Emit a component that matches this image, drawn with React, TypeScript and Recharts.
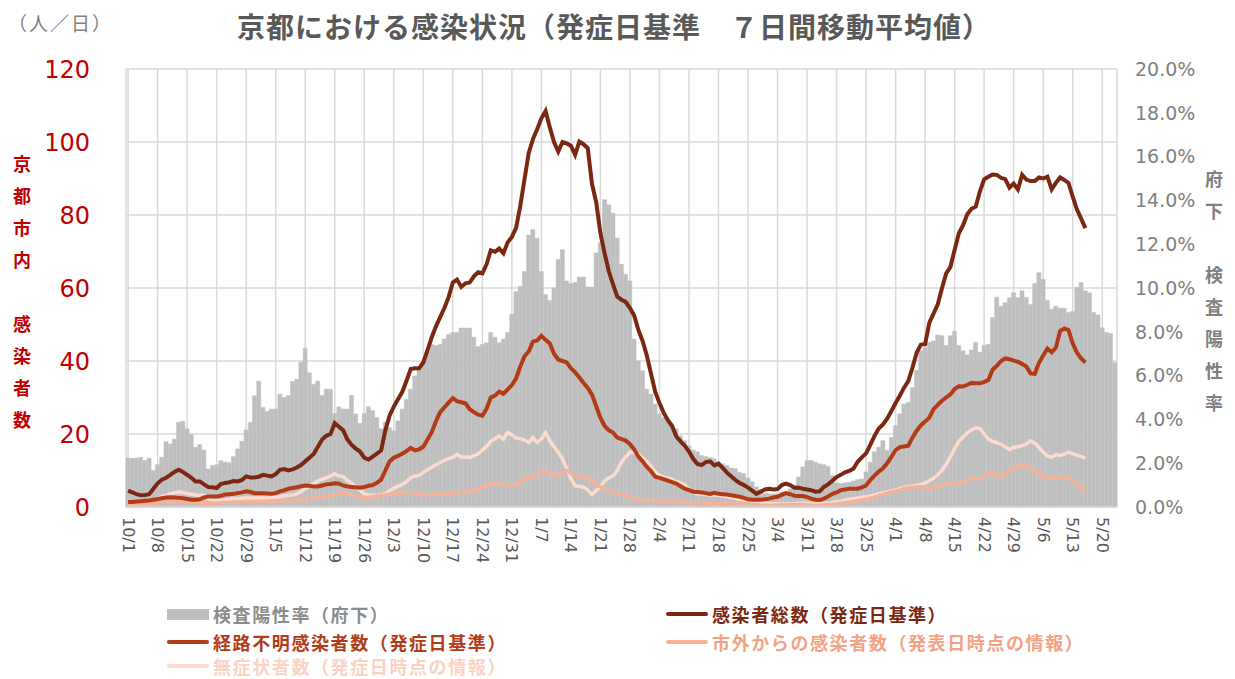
import React from "react";
import { Bar, CartesianGrid, ComposedChart, Line, XAxis, YAxis } from "recharts";

// daily values from 10/1 (2020). lines stop at 5/16, bars run to 5/23

// 検査陽性率（府下） in %
const positiveRate = [
  2.23, 2.23, 2.23, 2.27, 2.12, 2.23, 1.67, 1.93, 2.27, 2.98,
  2.88, 3.1, 3.87, 3.92, 3.57, 3.3, 2.73, 2.85, 2.6, 1.73,
  1.9, 1.93, 2.12, 2.05, 2.02, 2.3, 2.65, 3.0, 3.52, 3.87,
  5.08, 5.75, 4.55, 4.37, 4.47, 4.47, 5.15, 5.0, 5.08, 5.73,
  5.83, 6.6, 7.25, 6.13, 5.6, 5.75, 5.1, 5.38, 5.38, 4.27,
  4.57, 4.47, 4.47, 5.1, 4.25, 3.82, 4.27, 4.58, 4.4, 4.08,
  3.57, 3.88, 3.63, 3.48, 3.93, 4.47, 4.92, 5.38, 5.98, 6.3,
  6.67, 7.07, 7.42, 7.37, 7.42, 7.67, 7.88, 7.97, 7.97, 8.17,
  8.17, 8.17, 7.75, 7.32, 7.42, 7.5, 7.97, 7.75, 7.5, 7.67,
  7.97, 8.8, 9.83, 10.08, 10.75, 12.42, 12.67, 12.27, 10.75, 9.7,
  9.43, 10.0, 11.3, 11.75, 10.32, 10.2, 10.25, 10.5, 10.5, 10.05,
  10.05, 11.6, 12.07, 14.03, 13.8, 13.42, 12.28, 11.08, 10.62, 10.32,
  7.67, 6.67, 6.22, 5.38, 5.15, 4.7, 4.25, 4.08, 3.97, 3.72,
  3.57, 3.25, 3.03, 2.8, 2.6, 2.52, 2.35, 2.3, 2.25, 2.2,
  2.05, 1.97, 1.9, 1.78, 1.75, 1.58, 1.52, 1.32, 1.15, 0.92,
  0.8, 0.63, 0.6, 0.6, 0.6, 0.68, 0.68, 0.83, 1.0, 1.37,
  1.83, 2.12, 2.12, 2.05, 1.97, 1.93, 1.85, 1.43, 1.1, 1.07,
  1.1, 1.12, 1.18, 1.25, 1.28, 1.6, 2.05, 2.52, 2.73, 3.03,
  2.58, 3.18, 3.72, 4.25, 4.7, 4.78, 5.45, 6.23, 7.13, 7.28,
  7.52, 7.58, 7.85, 7.82, 7.37, 7.82, 8.03, 7.37, 7.13, 6.95,
  7.17, 7.52, 7.07, 7.37, 7.43, 8.65, 9.58, 9.17, 9.33, 9.55,
  9.78, 9.55, 9.87, 9.57, 9.25, 10.2, 10.7, 10.4, 9.43, 9.03,
  9.17, 9.08, 9.08, 8.88, 8.93, 10.02, 10.25, 9.87, 9.78, 8.88,
  8.77, 8.18, 7.97, 7.92, 6.6,
];

// 感染者総数（発症日基準）
const totalCases = [
  4.5, 4.0, 3.5, 3.2, 3.3, 3.5, 5.0, 6.5, 7.5, 8.0,
  8.8, 9.6, 10.2, 9.6, 8.8, 8.0, 7.0, 7.0, 6.2, 5.5,
  5.4, 5.2, 6.3, 6.6, 6.8, 7.1, 7.0, 7.4, 8.4, 8.1,
  8.1, 8.3, 8.8, 8.6, 8.4, 9.0, 10.2, 10.4, 10.0, 10.3,
  10.8, 11.5, 12.5, 13.5, 14.5, 16.5, 18.5, 19.5, 20.0, 23.0,
  22.0, 21.0, 18.5, 17.0, 16.0, 15.2, 13.5, 13.0, 13.8, 14.6,
  15.5, 21.0, 25.0, 27.5, 29.5, 31.5, 34.5, 37.8, 38.0, 38.0,
  39.6, 43.0, 46.5, 49.5, 52.0, 54.5, 57.5, 61.5, 62.3, 60.3,
  61.3, 61.5, 63.2, 64.3, 64.0, 66.5, 70.3, 69.9, 70.8, 69.5,
  72.5, 74.0, 76.5, 82.5, 89.8, 97.0, 100.8, 103.5, 106.5, 108.5,
  104.0, 100.0, 97.4, 100.0, 99.6, 99.0, 96.5, 100.1, 99.4, 98.3,
  88.5, 83.5, 75.0, 69.5, 64.5, 61.0, 57.6, 56.8, 56.2, 54.5,
  52.5, 48.5, 45.5, 41.5, 36.5, 31.5, 28.5, 25.8, 23.8, 22.2,
  19.3, 18.0, 16.8, 15.2, 13.2, 11.8, 11.5, 12.3, 12.5, 11.4,
  11.9, 10.7, 9.4, 8.4, 7.4, 6.6, 6.0, 5.3, 4.5, 3.6,
  4.2, 4.8, 5.0, 4.8, 4.9, 6.0, 6.4, 6.0, 5.3, 5.3,
  5.0, 4.8, 4.6, 4.2, 4.3, 5.5, 6.2, 7.2, 8.2, 8.8,
  9.5, 9.9, 10.5, 12.4, 13.6, 14.7, 17.0, 19.5, 21.5, 22.6,
  24.2, 26.3, 28.5, 30.5, 32.7, 34.5, 38.2, 42.3, 44.5, 44.6,
  50.5, 53.0, 55.5, 60.0, 64.0, 65.8, 70.5, 75.0, 77.2, 80.2,
  81.7, 82.3, 86.5, 89.8, 90.5, 91.1, 91.0, 90.2, 89.8, 87.5,
  88.6, 87.0, 91.0, 89.7, 89.3, 89.3, 90.3, 90.0, 90.5, 87.0,
  88.8, 90.3, 89.6, 88.8, 85.0, 81.5, 79.0, 76.4,
];

// 経路不明感染者数（発症日基準）
const unknownRoute = [
  1.4, 1.4, 1.5, 1.6, 1.7, 1.8, 2.0, 2.2, 2.4, 2.6,
  2.7, 2.6, 2.5, 2.4, 2.2, 2.0, 2.0, 2.1, 2.6, 2.9,
  2.9, 2.9, 3.1, 3.4, 3.5, 3.6, 3.8, 4.0, 4.3, 4.1,
  3.8, 3.8, 3.8, 3.7, 3.6, 3.8, 4.3, 4.6, 5.0, 5.2,
  5.4, 5.7, 5.9, 5.8, 5.6, 5.6, 5.9, 6.2, 6.3, 6.5,
  6.4, 5.9, 5.6, 5.5, 5.4, 5.3, 5.5, 5.8, 6.0, 6.6,
  7.5, 10.0, 12.5, 13.5, 14.0, 14.6, 15.3, 16.2, 15.5, 15.8,
  16.5, 18.5, 20.5, 23.5, 26.0, 27.3, 28.6, 29.8, 29.0, 28.7,
  28.4, 26.8, 26.0, 25.3, 25.0, 26.9, 30.0, 30.5, 31.6, 31.0,
  32.2, 33.4, 35.2, 38.5, 41.3, 42.6, 45.3, 45.6, 46.9, 45.8,
  44.8, 42.0, 40.4, 40.0, 39.6, 38.0, 36.9, 35.5, 34.0, 32.6,
  30.8, 27.6, 24.5, 22.2, 21.0, 20.4, 19.0, 18.6, 18.2, 17.2,
  15.8, 13.8, 12.5, 11.0, 9.8, 8.3, 8.0, 7.6, 7.2, 6.8,
  6.4, 5.7, 5.0, 4.6, 4.2, 4.1, 4.0, 3.8, 3.6, 3.9,
  3.6, 3.5, 3.4, 3.2, 3.0, 2.8, 2.5, 2.1, 2.0, 2.0,
  2.0, 2.1, 2.3, 2.6, 2.8, 3.3, 3.8, 3.5, 3.1, 3.0,
  3.0, 2.7, 2.3, 2.0, 1.9, 2.3, 2.9, 3.6, 4.0, 4.6,
  4.8, 5.0, 5.0, 5.0, 5.4, 5.9, 7.4, 8.6, 9.7, 10.6,
  12.0, 13.7, 15.6, 16.4, 16.6, 16.8, 19.0, 20.9, 22.4, 23.4,
  24.5, 26.8, 28.0, 29.1, 30.0, 30.9, 32.3, 33.1, 33.0, 33.5,
  34.0, 33.9, 33.9, 34.3, 34.8, 37.6, 38.7, 40.0, 40.7, 40.5,
  40.1, 39.8, 39.2, 38.5, 36.6, 36.5, 39.5, 41.5, 43.4, 42.4,
  43.6, 48.2, 48.9, 48.5, 44.8, 42.3, 40.7, 39.6,
];

// 市外からの感染者数（発表日時点の情報）
const fromOutside = [
  0.4, 0.5, 0.6, 0.7, 0.8, 0.9, 1.0, 1.1, 1.2, 1.3,
  1.4, 1.5, 1.5, 1.5, 1.4, 1.3, 1.2, 1.1, 1.0, 1.0,
  1.0, 1.1, 1.2, 1.2, 1.3, 1.3, 1.4, 1.4, 1.5, 1.5,
  1.5, 1.5, 1.6, 1.6, 1.6, 1.6, 1.7, 1.7, 1.8, 1.8,
  2.0, 2.1, 2.2, 2.3, 2.4, 2.6, 2.8, 2.9, 3.0, 3.3,
  3.6, 3.8, 3.7, 3.3, 3.0, 2.8, 2.7, 2.7, 2.8, 3.0,
  3.2, 3.3, 3.5, 3.6, 3.6, 3.8, 4.0, 4.1, 3.8, 3.6,
  3.4, 3.3, 3.4, 3.5, 3.5, 3.6, 3.7, 3.8, 3.9, 4.0,
  4.1, 4.1, 4.3, 4.8, 5.3, 5.8, 6.4, 6.5, 6.3, 6.1,
  6.0, 6.0, 6.1, 6.7, 7.6, 8.3, 8.3, 8.5, 9.4, 10.1,
  9.0, 8.8, 8.6, 9.6, 10.0, 9.2, 8.7, 8.3, 8.0, 7.8,
  7.4, 6.2, 5.5, 5.0, 4.5, 4.2, 3.8, 3.4, 3.1, 2.8,
  2.3, 2.1, 1.9, 1.8, 1.8, 1.7, 1.7, 1.6, 1.6, 1.6,
  1.5, 1.4, 1.4, 1.3, 1.2, 1.1, 1.1, 1.0, 1.0, 0.9,
  0.9, 1.0, 1.1, 1.0, 0.9, 0.8, 0.8, 0.7, 0.7, 0.6,
  0.5, 0.5, 0.5, 0.5, 0.5, 0.6, 0.6, 0.7, 0.7, 0.7,
  0.6, 0.6, 0.5, 0.5, 0.5, 0.6, 0.7, 0.7, 0.8, 1.0,
  1.2, 1.4, 1.5, 1.7, 1.9, 2.1, 2.4, 2.7, 3.1, 3.4,
  3.8, 4.1, 4.4, 4.7, 5.0, 5.3, 5.4, 5.5, 5.6, 5.1,
  5.2, 5.4, 5.7, 6.0, 6.2, 6.4, 6.5, 6.6, 6.7, 7.2,
  8.1, 7.6, 7.8, 8.3, 9.3, 9.3, 8.8, 8.6, 9.0, 10.2,
  10.6, 10.9, 11.4, 11.2, 10.6, 9.9, 9.3, 8.2, 7.8, 7.8,
  8.1, 8.2, 8.2, 7.9, 7.0, 6.4, 5.5, 4.2,
];

// 無症状者数（発症日時点の情報）
const asymptomatic = [
  0.6, 0.8, 1.1, 1.3, 1.5, 1.7, 2.0, 2.4, 2.9, 3.2,
  3.6, 3.9, 4.1, 4.0, 3.7, 3.5, 3.3, 3.2, 3.2, 2.2,
  1.9, 1.8, 1.8, 2.0, 2.1, 2.3, 2.3, 2.4, 2.5, 2.5,
  2.5, 2.5, 2.5, 2.5, 2.6, 2.7, 2.8, 3.0, 3.2, 3.3,
  3.6, 4.2, 5.0, 5.8, 6.4, 7.2, 7.6, 8.0, 8.5, 9.1,
  8.5, 8.3, 7.3, 6.5, 5.6, 4.6, 3.6, 3.3, 3.2, 3.2,
  3.4, 3.6, 4.5, 5.1, 5.7, 6.2, 6.9, 8.0, 8.5, 8.6,
  9.5, 10.2, 10.9, 11.6, 12.2, 12.8, 13.3, 13.6, 14.5, 13.7,
  13.7, 13.6, 14.0, 14.6, 15.6, 16.6, 18.0, 18.7, 19.5, 18.6,
  20.4, 19.8, 18.9, 18.7, 18.4, 17.6, 19.0, 17.7, 18.6, 20.4,
  18.1, 16.5, 15.0, 13.2, 10.5, 7.8, 5.8, 5.7, 5.4, 4.7,
  3.4, 4.5, 5.6, 7.1, 8.0, 8.5, 10.0, 12.3, 13.7, 15.0,
  15.0, 14.5, 13.4, 12.4, 11.2, 9.6, 8.7, 8.2, 7.9, 7.6,
  7.0, 6.6, 6.2, 4.8, 4.0, 3.6, 3.5, 3.4, 3.3, 3.3,
  3.2, 3.0, 2.8, 2.6, 2.4, 2.2, 2.0, 1.9, 1.6, 1.4,
  1.3, 1.1, 0.9, 0.9, 0.8, 0.8, 0.8, 0.9, 0.9, 1.0,
  1.0, 1.0, 0.8, 0.8, 0.9, 1.0, 1.0, 1.2, 1.5, 1.6,
  1.9, 2.1, 2.3, 2.5, 2.7, 2.8, 3.0, 3.3, 3.6, 3.9,
  4.1, 4.4, 4.7, 5.0, 5.3, 5.6, 5.7, 5.9, 6.2, 6.6,
  7.2, 7.9, 8.9, 10.1, 11.8, 13.7, 16.0, 18.0, 19.2, 20.3,
  21.1, 21.7, 21.5, 20.0, 18.6, 18.0, 17.6, 17.2, 16.5, 15.7,
  16.3, 16.5, 16.8, 17.3, 18.1, 17.5, 16.3, 15.0, 14.0, 13.6,
  14.3, 14.1, 14.5, 15.0, 14.6, 14.2, 13.8, 13.4,
];

const leftTicks = [0, 20, 40, 60, 80, 100, 120];
const rightTicks = [0, 2, 4, 6, 8, 10, 12, 14, 16, 18, 20];

const rows = positiveRate.map((rate, i) => {
  const d = new Date(2020, 9, 1 + i);
  return {
    date: `${d.getMonth() + 1}/${d.getDate()}`,
    rate,
    total: totalCases[i] ?? null,
    unknown: unknownRoute[i] ?? null,
    outside: fromOutside[i] ?? null,
    asym: asymptomatic[i] ?? null,
  };
});

const JP = '"Noto Sans CJK JP", "Noto Sans", sans-serif';
const NUM = '"DejaVu Sans", Verdana, sans-serif';

function DateTick({ x, y, payload }: any) {
  const ty = y + 2;
  return (
    <text
      x={x}
      y={ty}
      transform={`rotate(90 ${x} ${ty})`}
      textAnchor="start"
      dominantBaseline="central"
      fill="#595959"
      fontSize={16}
      fontFamily={NUM}
    >
      {payload.value}
    </text>
  );
}

const legendItems = [
  { label: "検査陽性率（府下）", color: "#BFBFBF", text: "#8C8C8C", box: true, x: 167, y: 614 },
  { label: "感染者総数（発症日基準）", color: "#7B2812", text: "#7B2812", box: false, x: 666, y: 614 },
  { label: "経路不明感染者数（発症日基準）", color: "#B23C17", text: "#B23C17", box: false, x: 167, y: 642 },
  { label: "市外からの感染者数（発表日時点の情報）", color: "#F4B29B", text: "#F2A285", box: false, x: 666, y: 642 },
  { label: "無症状者数（発症日時点の情報）", color: "#FCDCD0", text: "#F9D3C6", box: false, x: 167, y: 666 },
];

function VerticalLabel({ chars, x, top, color }: { chars: string[]; x: number; top: number; color: string }) {
  return (
    <div style={{ position: "absolute", left: x - 12, top, width: 24, textAlign: "center", color, fontFamily: JP, fontWeight: 700, fontSize: 18, lineHeight: "32px" }}>
      {chars.map((c, i) => (
        <div key={i} style={{ height: 32 }}>{c}</div>
      ))}
    </div>
  );
}

export default function App() {
  return (
    <div style={{ position: "absolute", left: 0, top: 0, width: 1235, height: 679, background: "#fff", overflow: "hidden" }}>
      <div style={{ position: "absolute", left: 8, top: 9, fontFamily: JP, fontSize: 19, letterSpacing: 2, color: "#7F7F7F" }}>（人／日）</div>
      <div style={{ position: "absolute", left: 0, width: 1228, top: 6, textAlign: "center", fontFamily: JP, fontWeight: 700, fontSize: 28, letterSpacing: 1, color: "#595959" }}>
        京都における感染状況（発症日基準　７日間移動平均値）
      </div>
      <VerticalLabel chars={["京", "都", "市", "内", "", "感", "染", "者", "数"]} x={22} top={147} color="#C00000" />
      <VerticalLabel chars={["府", "下", "", "検", "査", "陽", "性", "率"]} x={1214} top={162} color="#808080" />

      <ComposedChart
        width={1235}
        height={679}
        data={rows}
        margin={{ top: 69, right: 38, bottom: 112, left: 76 }}
        barCategoryGap={0}
        barGap={0}
      >
        <CartesianGrid yAxisId="left" stroke="#D9D9D9" strokeWidth={1.5} />
        <XAxis
          dataKey="date"
          interval={6}
          height={60}
          tick={<DateTick />}
          tickLine={false}
          axisLine={{ stroke: "#D9D9D9", strokeWidth: 1.5 }}
        />
        <YAxis
          yAxisId="left"
          domain={[0, 120]}
          ticks={leftTicks}
          width={50}
          tickSize={0}
          tickMargin={36}
          axisLine={false}
          tickLine={false}
          tick={{ fill: "#C00000", fontSize: 24, fontFamily: NUM }}
        />
        <YAxis
          yAxisId="right"
          orientation="right"
          domain={[0, 20]}
          ticks={rightTicks}
          tickFormatter={(v: number) => `${v.toFixed(1)}%`}
          width={80}
          tickSize={0}
          tickMargin={18}
          axisLine={false}
          tickLine={false}
          tick={{ fill: "#808080", fontSize: 19, fontFamily: NUM }}
        />
        <Bar yAxisId="right" dataKey="rate" fill="#BFBFBF" stroke="#BFBFBF" strokeWidth={0.5} isAnimationActive={false} />
        <Line yAxisId="left" dataKey="asym" type="linear" stroke="#FCDCD0" strokeWidth={3.5} dot={false} isAnimationActive={false} />
        <Line yAxisId="left" dataKey="outside" type="linear" stroke="#F4B29B" strokeWidth={3.5} dot={false} isAnimationActive={false} />
        <Line yAxisId="left" dataKey="unknown" type="linear" stroke="#B23C17" strokeWidth={4} dot={false} isAnimationActive={false} />
        <Line yAxisId="left" dataKey="total" type="linear" stroke="#7B2812" strokeWidth={4} dot={false} isAnimationActive={false} />
      </ComposedChart>

      {legendItems.map((it) => (
        <div key={it.label} style={{ position: "absolute", left: it.x, top: it.y - 10, height: 20, display: "flex", alignItems: "center" }}>
          {it.box ? (
            <div style={{ width: 42, height: 11, background: it.color }} />
          ) : (
            <div style={{ width: 42, height: 4, background: it.color, borderRadius: 2 }} />
          )}
          <span style={{ marginLeft: 4, fontFamily: JP, fontWeight: 700, fontSize: 18, lineHeight: "20px", letterSpacing: 1.6, color: it.text }}>{it.label}</span>
        </div>
      ))}
    </div>
  );
}
